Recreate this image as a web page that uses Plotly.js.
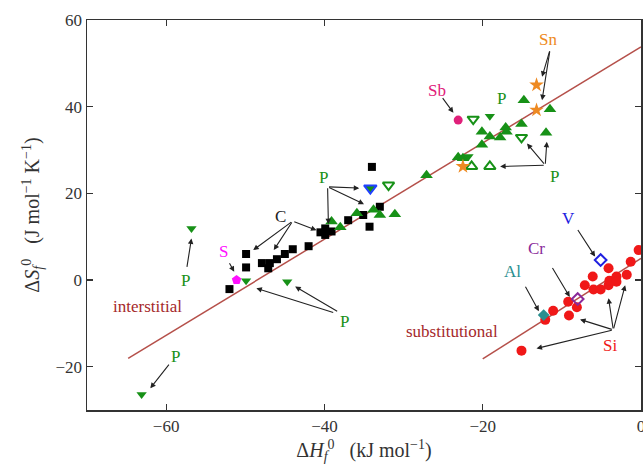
<!DOCTYPE html>
<html><head><meta charset="utf-8">
<script src="https://cdn.plot.ly/plotly-3.0.1.min.js"></script>
<style>body{margin:0}#g{width:643px;height:474px}</style>
</head><body><div id="g"></div>
<script>
// ---- data ----
const cX = [-34.0,-39.9,-39.9,-39.1,-40.5,-37.0,-35.1,-33.0,-34.3,-42.0,-44.0,-45.0,-46.0,-46.9,-47.9,-47.1,-49.9,-49.9,-52.0];
const cY = [26.1,11.9,10.4,11.2,11.0,13.8,15.0,16.9,12.3,7.8,7.1,6.0,4.8,3.9,3.9,2.7,6.0,2.9,-2.1];
const pUpX = [-39.1,-38.0,-35.9,-33.8,-33.0,-31.1,-27.1,-23.1,-22.5,-20.1,-17.8,-19.1,-20.1,-17.1,-17.0,-15.1,-14.8,-11.5,-12.0];
const pUpY = [13.5,12.2,15.4,16.2,15.0,15.2,24.2,28.3,28.1,31.2,32.9,33.1,34.2,35.2,34.2,36.0,41.5,39.4,34.0];
const pDnOpenX = [-31.9,-21.2,-15.1];
const pDnOpenY = [21.9,37.1,32.9];
const pDnX = [-44.7,-49.9,-56.8,-63.1,-19.1,-21.8];
const pDnY = [-0.4,-0.2,11.9,-26.4,37.8,28.5];
const pBlueX = [-34.2];
const pBlueY = [21.2];
const pUpOpenX = [-21.4,-19.1];
const pUpOpenY = [26.2,26.2];
const snX = [-13.2,-13.2,-22.5];
const snY = [45.0,39.2,26.2];
const sbX = [-23.1], sbY = [36.9];
const sX = [-51.1], sY = [0.0];
const siX = [-15.1,-12.1,-11.1,-9.1,-9.2,-8.1,-7.1,-6.1,-6.0,-5.1,-4.1,-4.1,-4.0,-3.1,-3.1,-1.8,-1.3,-0.3];
const siY = [-16.3,-9.2,-7.1,-8.2,-5.0,-6.3,-1.2,0.8,-2.2,-2.2,2.7,-1.2,-0.2,0.8,-0.4,1.2,4.2,6.9];
const alX = [-12.3], alY = [-8.1];
const crX = [-8.0], crY = [-4.4];
const vX = [-5.1], vY = [4.6];
const fitIntX = [-64.8, 0], fitIntY = [-18.1, 53.8];
const fitSubX = [-20.0, 0], fitSubY = [-18.2, 5.0];
const xTicks = [-60,-40,-20,0];
const xTickText = ['\u221260','\u221240','\u221220','0'];
const yTicks = [-20,0,20,40,60];
const yTickText = ['\u221220','0','20','40','60'];

const G = '#179117';
const serif = '"Liberation Serif", serif';

function sc(x,y,sym,color,size,line){
  return {x:x,y:y,type:'scatter',mode:'markers',hoverinfo:'skip',cliponaxis:false,
    marker:{symbol:sym,color:color,size:size,line:line||{width:0}}};
}
const traces = [
  {x:fitIntX,y:fitIntY,type:'scatter',mode:'lines',line:{color:'#b5504a',width:1.5},hoverinfo:'skip'},
  {x:fitSubX,y:fitSubY,type:'scatter',mode:'lines',line:{color:'#b5504a',width:1.5},hoverinfo:'skip'},
  sc(cX,cY,'square','#000',8),
  sc(pUpX,pUpY,'triangle-up',G,11),
  sc(pDnOpenX,pDnOpenY,'triangle-down-open',G,10,{color:G,width:2}),
  sc(pDnX,pDnY,'triangle-down',G,9),
  sc(pBlueX,pBlueY,'triangle-down',G,11,{color:'#2040ff',width:2}),
  sc(pUpOpenX,pUpOpenY,'triangle-up-open',G,10,{color:G,width:2}),
  sc(snX,snY,'star','#ee8a22',11),
  sc(sbX,sbY,'circle','#e0207a',9),
  sc(sX,sY,'pentagon','#ff10ff',10),
  sc(siX,siY,'circle','#f01818',10),
  sc(alX,alY,'diamond','#2a8f8f',9),
  sc(crX,crY,'diamond-open','#8a2a9a',9,{color:'#8a2a9a',width:2}),
  sc(vX,vY,'diamond-open','#2020e0',9,{color:'#2020e0',width:2})
];

// labels: [text, x, y, color, arrows [[tailx,taily,headx,heady],...]]
const labels = [
  ['C',-45.6,14.7,'#222',[[-44.0,13.6,-49.0,6.9],[-44.0,13.6,-46.4,6.9],[-44.0,13.6,-41.0,11.5]]],
  ['P',-40.1,23.6,G,[[-39.6,21.5,-39.5,12.9],[-39.6,21.5,-35.6,21.2],[-39.6,21.5,-35.0,17.5]]],
  ['S',-52.8,6.6,'#ff10ff',[[-52.1,4.2,-51.4,1.9]]],
  ['P',-57.6,0.0,G,[[-57.4,2.7,-56.8,9.6]]],
  ['P',-58.8,-17.7,G,[[-59.5,-19.2,-62.0,-25.0]]],
  ['P',-37.5,-9.5,G,[[-38.7,-7.6,-48.6,-1.9],[-38.2,-7.4,-43.7,-1.5]]],
  ['interstitial',-62.3,-6.2,'#a5282a',[]],
  ['substitutional',-23.9,-11.8,'#a5282a',[]],
  ['Al',-16.3,1.9,'#2a8f8f',[[-14.7,-1.2,-12.9,-7.2]]],
  ['Cr',-13.2,7.3,'#8a2a9a',[[-11.3,3.1,-9.0,-3.9]]],
  ['V',-9.2,14.1,'#2020e0',[[-8.1,11.9,-5.8,5.4]]],
  ['Si',-3.9,-15.0,'#f01818',[[-3.5,-11.5,-13.2,-15.8],[-3.5,-11.5,-7.7,-9.1],[-3.5,-11.5,-4.1,-4.2],[-3.5,-11.5,-2.0,-1.2]]],
  ['Sb',-25.8,43.8,'#e0207a',[[-25.2,42.3,-23.7,38.6]]],
  ['P',-17.6,41.9,G,[]],
  ['Sn',-11.7,55.4,'#ee8a22',[[-11.5,53.1,-12.5,46.9],[-11.5,53.1,-12.5,41.5]]],
  ['P',-10.9,23.8,G,[[-12.1,26.5,-14.4,31.5],[-12.1,26.5,-11.9,31.9],[-12.1,26.5,-17.8,26.2]]]
];
const ann = [];
labels.forEach(l=>{
  ann.push({x:l[1],y:l[2],xref:'x',yref:'y',text:l[0],showarrow:false,
    font:{family:serif,size:17,color:l[3]}});
  l[4].forEach(a=>{
    ann.push({x:a[2],y:a[3],ax:a[0],ay:a[1],xref:'x',yref:'y',axref:'x',ayref:'y',
      text:'',showarrow:true,arrowhead:2,arrowsize:1,arrowwidth:1.1,arrowcolor:'#222'});
  });
});

const axisCommon = {showgrid:false,zeroline:false,showline:true,linecolor:'#333',linewidth:1.5,
  mirror:'ticks',ticks:'inside',ticklen:6,tickwidth:1.2,tickcolor:'#333',ticklabeloverflow:'allow',
  tickfont:{family:serif,size:17,color:'#333'}};
const layout = {
  width:643,height:474,margin:{l:87,r:2,t:20,b:64},
  paper_bgcolor:'#fff',plot_bgcolor:'#fff',showlegend:false,
  font:{family:serif},
  xaxis:Object.assign({},axisCommon,{range:[-70,0],tickvals:xTicks,ticktext:xTickText,
    title:{text:'\u0394<i>H</i><sub><i>f</i></sub><sup>0</sup>   (kJ mol<sup>\u22121</sup>)',font:{family:serif,size:20,color:'#333'},standoff:8}}),
  yaxis:Object.assign({},axisCommon,{range:[-30,60],tickvals:yTicks,ticktext:yTickText,
    title:{text:'\u0394<i>S</i><sub><i>f</i></sub><sup>0</sup>   (J mol<sup>\u22121</sup> K<sup>\u22121</sup>)',font:{family:serif,size:20,color:'#333'},standoff:10}}),
  annotations:ann
};
Plotly.newPlot('g',traces,layout,{displayModeBar:false,staticPlot:true});
</script></body></html>
